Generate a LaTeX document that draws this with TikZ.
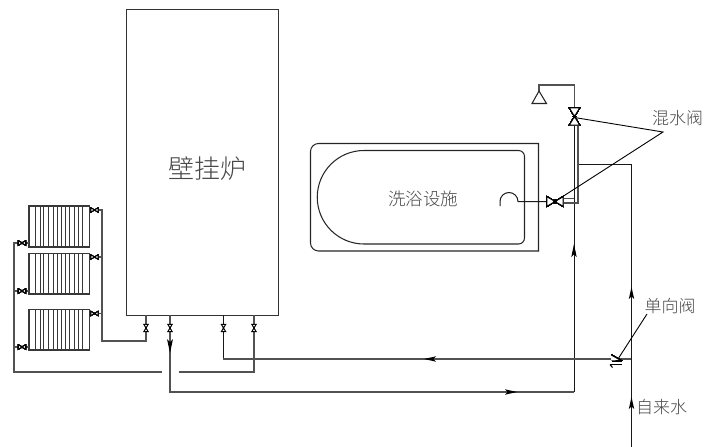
\documentclass[tikz,border=0pt]{standalone}
\usepackage{fontspec}
\setmainfont{Noto Sans CJK SC}[UprightFont=* Light]
\usetikzlibrary{calc}
\tikzset{
  pipe/.style={draw=black!68,line width=1.4pt},
  thin line/.style={draw=black!90,line width=1pt},
  lead/.style={draw=black,line width=0.9pt},
  outline/.style={draw=black!85,line width=1.05pt},
  cjk/.style={text=black!72,inner sep=0pt,font=\fontsize{#1}{#1}\selectfont},
}
\newcommand{\vvalve}[3]{% x,y,half size: vertical bowtie
  \draw[line width=0.95pt,black,fill=white] (#1-#3*.6,#2-#3)--(#1+#3*.6,#2-#3)--(#1-#3*.6,#2+#3)--(#1+#3*.6,#2+#3)--cycle;
  \fill[black] (#1,#2) circle (#3*.22);}
\newcommand{\hvalve}[3]{% horizontal bowtie
  \draw[line width=0.95pt,black,fill=white] (#1-#3,#2-#3*.6)--(#1-#3,#2+#3*.6)--(#1+#3,#2-#3*.6)--(#1+#3,#2+#3*.6)--cycle;
  \fill[black] (#1,#2) circle (#3*.22);}
\newcommand{\radiator}[2]{% top y, bottom y
  \draw[line width=1.05pt,draw=black!78] (29,#1) rectangle (89.5,#2);
  \foreach \xx in {35.5,40,43.5,48,53.5,57.5,61.5,65.5,69.5,74,78.5,82.5}
    \draw[line width=0.95pt,draw=black!78] (\xx,#1)--(\xx,#2);}
\begin{document}
\begin{tikzpicture}[x=1pt,y=-1pt]
\useasboundingbox (0,0) rectangle (716,447);
% junctions
\coordinate (bA) at (146,315);
\coordinate (bB) at (170,315);
\coordinate (bC) at (223.5,315);
\coordinate (bD) at (254,315);
\coordinate (cold) at (631.5,447);
\coordinate (tee) at (631,359);
% boiler
\node[draw=black!80,line width=1.2pt,minimum width=152pt,minimum height=306pt,inner sep=0pt,anchor=north west] (boiler) at (126,9) {};
\node[cjk=26,anchor=center] (boilerlabel) at (207.5,169) {壁挂炉};
% bath
\draw[outline] (318.5,143.5) -- (538.5,143.5) -- (538.5,251) -- (318.5,251) arc[start angle=90,end angle=180,radius=8] -- (310.5,151.5) arc[start angle=180,end angle=270,radius=8];
\draw[outline] (364,150.5) -- (518.5,150.5) arc[start angle=-90,end angle=0,radius=6] -- (524.5,238) arc[start angle=0,end angle=90,radius=6] -- (364,244) arc[start angle=90,end angle=270,radius=46.75];
\node[cjk=17.5,anchor=center] (bathlabel) at (423,199) {洗浴设施};
% radiators
\radiator{206}{247}
\radiator{253.5}{294}
\radiator{309.5}{350}
% supply to radiators
\draw[pipe] (bA) -- (146,341) -- (102,341) -- (102,210) -- (90,210);
\draw[pipe] (102,257) -- (89.5,257);
\draw[pipe] (102,313.5) -- (89.5,313.5);
% return
\draw[pipe] (29,243) -- (14,243) -- (14,372) -- (162,372);
\draw[pipe] (29,291) -- (14,291);
\draw[pipe] (29,347) -- (14,347);
\draw[pipe] (178.5,372) -- (254,372) -- (bD);
% hot line
\draw[pipe] (bB) -- (170,392) -- (574,392);
\draw[thin line] (574,392) -- (574,125);
\draw[thin line] (bC) -- (223.5,359);
\draw[pipe] (223,359) -- (tee);
% cold line
\draw[thin line] (cold) -- (631.5,164) -- (578,164);
\draw[pipe] (578,125) -- (578,203) -- (563,203);
\draw[pipe] (574,198.5) -- (563,198.5);
% shower
\draw[pipe] (574.5,108) -- (574.5,85) -- (539,85) -- (539,91);
\draw[outline] (539,91) -- (546.5,103.5) -- (532,103.5) -- cycle;
% spout
\draw[thin line] (547,201.5) -- (518,201.5) arc[start angle=0,end angle=-180,radius=9] -- (500,206);
% arrows
\fill[black] (170,353) -- (167,339) -- (170,342) -- (173,339) -- cycle;
\fill[black] (574,244) -- (571.3,257) -- (574,254.5) -- (576.7,257) -- cycle;
\fill[black] (631.5,287) -- (628.8,299) -- (631.5,296.5) -- (634.2,299) -- cycle;
\fill[black] (631.5,397) -- (628.8,409) -- (631.5,406.5) -- (634.2,409) -- cycle;
\fill[black] (424,359) -- (436,356.3) -- (433.5,359) -- (436,361.7) -- cycle;
\fill[black] (517,392) -- (505,389.3) -- (507.5,392) -- (505,394.7) -- cycle;
% valves
\foreach \vx in {146,170,223.5,254} \vvalve{\vx}{328}{3.6}
\foreach \vy in {210,257,313.5} \hvalve{94.5}{\vy}{3.6}
\foreach \vy in {243,291,347} \hvalve{22}{\vy}{3.6}
\vvalve{574.5}{116.5}{8.5}
\hvalve{555}{201.5}{8}
% check valve
\draw[line width=1.1pt,black,fill=white] (611.5,355) -- (621,360.5) -- (612,361);
\draw[line width=1.1pt,black] (610,364.5) -- (622,364.5);
\draw[line width=1.1pt,black] (610,364.5) -- (612.5,367.5);
% leaders
\coordinate (mixelbow) at (663,132);
\draw[lead] (574.5,117.5) -- (mixelbow) -- (555,201.5);
\draw[lead] (647,314) -- (618,359);
% labels
\node[cjk=17,anchor=center] (mixlabel) at (677.5,118) {混水阀};
\node[cjk=17,anchor=center] (checklabel) at (670,306) {单向阀};
\node[cjk=17,anchor=center] (coldlabel) at (661.5,407) {自来水};
\end{tikzpicture}
\end{document}
